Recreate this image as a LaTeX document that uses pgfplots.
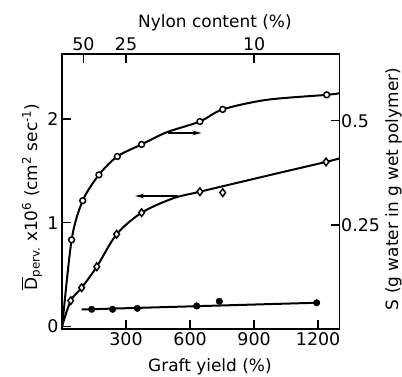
\documentclass[border=0pt]{standalone}
\usepackage{pgfplots}
\pgfplotsset{compat=1.18}
\usepackage{fontspec}
\setmainfont{DejaVu Sans}
\usetikzlibrary{arrows.meta}
\newcommand\Dbar{{\setbox0\hbox{D}\rlap{\raisebox{\dimexpr\ht0+1.8bp\relax}{\rule{\wd0}{1.3bp}}}D}}
\pgfplotsset{
  common/.style={
    scale only axis, width=277.5bp, height=275bp,
    at={(62bp,48bp)}, anchor=south west,
    xmin=0, xmax=1300,
    enlargelimits=false,
    tick align=inside,
    major tick length=9bp,
    every tick/.style={line width=1.5bp, black},
    axis line style={line width=1.8bp},
    tick label style={font=\fontsize{17.5}{20}\selectfont},
    label style={font=\fontsize{17}{20}\selectfont},
    /pgf/number format/assume math mode=true,
    clip=false,
  }
}
\begin{document}
\begin{tikzpicture}
\begin{axis}[common,
  ymin=-0.024, ymax=2.626,
  xtick={300,600,900,1200}, xticklabels={300,600,900,1200},
  ytick={0,1,2}, yticklabels={0,1,2},
  xtick pos=left, ytick pos=left,
  xlabel={Graft yield (\%)},
  xlabel style={at={(axis description cs:0.533,-0.156)}, anchor=base},
  ylabel={\Dbar\textsubscript{perv.} x10\textsuperscript{6} (cm\textsuperscript{2} sec\textsuperscript{-1})},
  ylabel style={at={(axis description cs:-0.090,0.48)}, anchor=base},
]
% D curve (fitted line)
\addplot[line width=2bp, smooth, tension=0.5] coordinates {
  (0,0) (41,0.249) (92,0.374) (163,0.576) (256,0.889) (373,1.097) (520,1.235)
  (646,1.299) (1000,1.472) (1237,1.586) (1300,1.62)};
\addplot[only marks, mark=diamond*, mark size=3.8bp,
  mark options={fill=white, draw=black, line width=1.5bp}] coordinates {
  (41,0.249) (92,0.374) (163,0.576) (256,0.889) (373,1.097) (646,1.299) (753,1.290) (1237,1.586)};
% filled series
\addplot[line width=2bp] coordinates {(92,0.164) (1193,0.229)};
\addplot[only marks, mark=*, mark size=3.3bp, black] coordinates {
  (139,0.166) (237,0.166) (353,0.175) (631,0.198) (737,0.243) (1193,0.229)};
% arrows
\addplot[line width=1.5bp, -{Stealth[length=9bp,width=4.5bp]}] coordinates {(543,1.258) (342,1.258)};
\addplot[line width=1.5bp, -{Stealth[length=9bp,width=4.5bp]}] coordinates {(498,1.865) (654,1.865)};
\end{axis}
\begin{axis}[common,
  ymin=0, ymax=0.66,
  axis x line*=top, axis y line*=right,
  xtick={100,300,900}, xticklabels={50,25,10},
  ytick={0.25,0.5}, yticklabels={0.25,0.5},
  yticklabel style={inner sep=1.5bp},
  xlabel={Nylon content (\%)},
  xlabel style={at={(axis description cs:0.551,1.098)}, anchor=base},
  ylabel={S (g water in g wet polymer)},
  ylabel style={at={(axis description cs:1.211,0.509)}, anchor=base, rotate=0},
]
\addplot[line width=2bp, smooth, tension=0.5] coordinates {
  (0,0) (45,0.214) (97,0.308) (173,0.370) (259,0.414) (373,0.443) (490,0.472)
  (646,0.498) (753,0.527) (959,0.550) (1240,0.562) (1300,0.566)};
\addplot[only marks, mark=*, mark size=2.9bp,
  mark options={fill=white, draw=black, line width=1.5bp}] coordinates {
  (45,0.214) (97,0.308) (173,0.370) (259,0.414) (373,0.443) (646,0.498) (753,0.527) (1240,0.562)};
\end{axis}
\pgfresetboundingbox
\path (0,0) rectangle (402bp,377bp);
\end{tikzpicture}
\end{document}
